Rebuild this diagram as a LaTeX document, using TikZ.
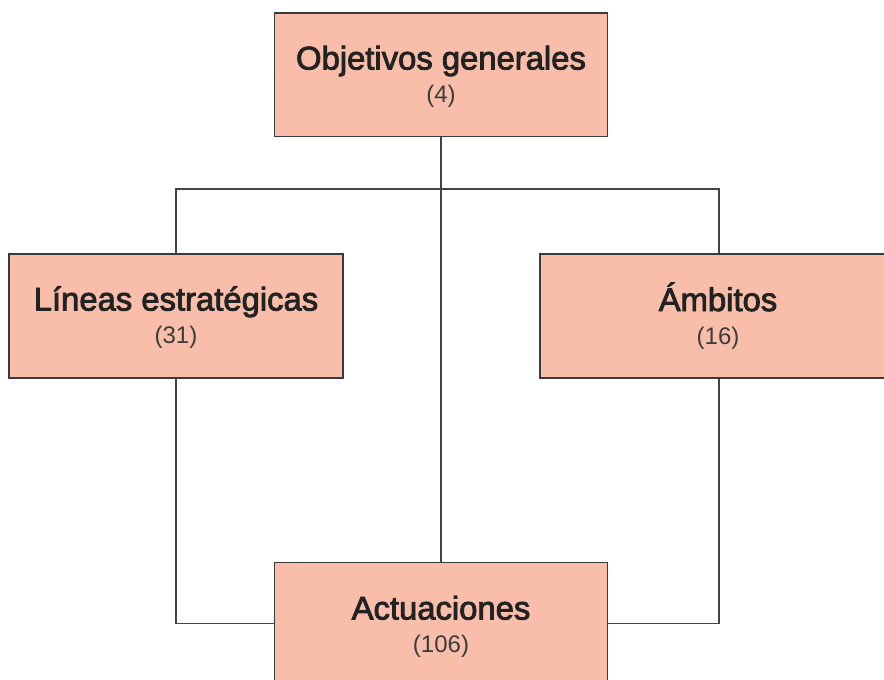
\documentclass[tikz,border=0pt]{standalone}
\usepackage{fontspec}
\setmainfont{Liberation Sans}
\newfontfamily\titlefont[FakeBold=2.6]{Liberation Sans}
\newfontfamily\numfont{Liberation Sans}
\definecolor{boxfill}{HTML}{F9BEAA}
\definecolor{boxline}{HTML}{3A3A3A}
\definecolor{connline}{HTML}{444444}
\definecolor{titletext}{HTML}{222222}
\definecolor{numtext}{HTML}{3C3C3C}
\begin{document}
\begin{tikzpicture}[x=0.75pt,y=-0.75pt,
  box/.style={rectangle, draw=boxline, fill=boxfill, line width=1pt, inner sep=0pt},
  ttl/.style={anchor=base, inner sep=0pt, text=titletext, font=\titlefont\fontsize{24.6pt}{28pt}\selectfont},
  num/.style={anchor=base, inner sep=0pt, text=numtext, font=\numfont\fontsize{18pt}{22pt}\selectfont},
  conn/.style={draw=connline, line width=1pt}]
\useasboundingbox (0,0) rectangle (884,679);
\fill[white] (0,0) rectangle (884,679);
% boxes
\node[box, minimum width=333*0.75pt, minimum height=123.5*0.75pt] (obj) at (441,74.75) {};
\node[box, minimum width=334*0.75pt, minimum height=124*0.75pt] (lin) at (176,316) {};
\node[box, minimum width=358*0.75pt, minimum height=124*0.75pt] (amb) at (719,316) {};
\node[box, minimum width=333*0.75pt, minimum height=122*0.75pt] (act) at (441,623.7) {};
% texts
\node[ttl] (objt) at (441,69.5) {Objetivos generales};
\node[num] (objn) at (441,102.5) {(4)};
\node[ttl] (lint) at (176,310.5) {Líneas estratégicas};
\node[num] (linn) at (176,343.5) {(31)};
\node[ttl] (ambt) at (718,311) {Ámbitos};
\node[num] (ambn) at (718,344) {(16)};
\node[ttl] (actt) at (441,619.5) {Actuaciones};
\node[num] (actn) at (441,652.2) {(106)};
% connectors
\coordinate (split) at (441,189);
\draw[conn] (obj.south) -- (act.north);
\draw[conn] (lin.north) |- (split) -| (amb.north);
\draw[conn] (lin.south) |- (act.west);
\draw[conn] (amb.south) |- (act.east);
\end{tikzpicture}
\end{document}
